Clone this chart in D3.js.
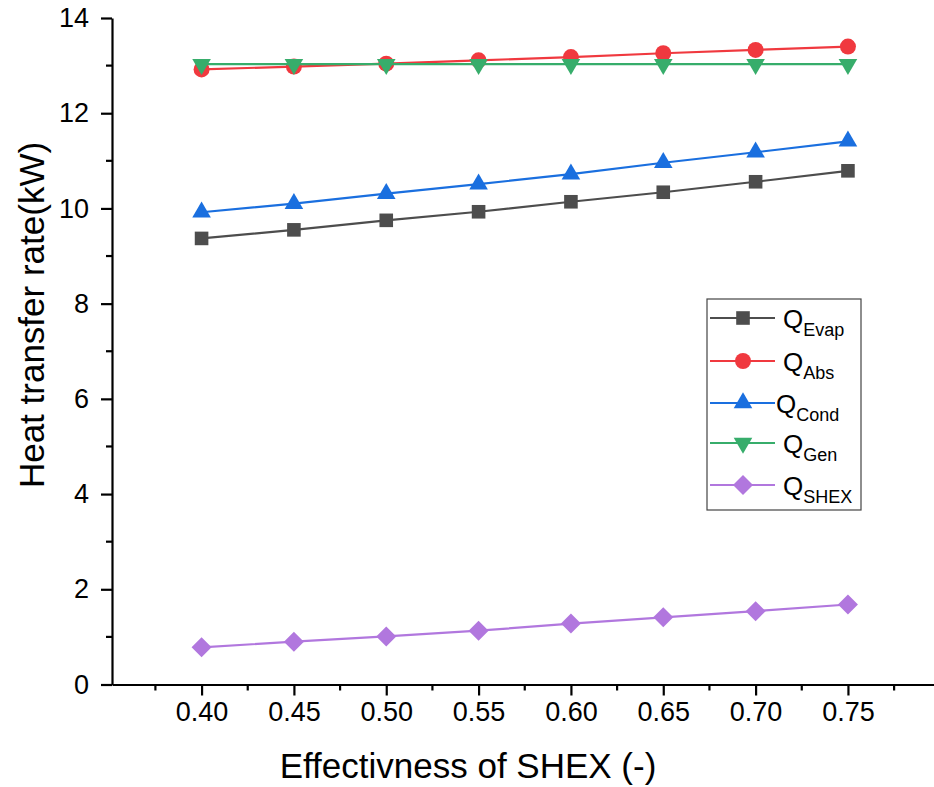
<!DOCTYPE html>
<html>
<head>
<meta charset="utf-8">
<script src="https://cdn.jsdelivr.net/npm/d3@7"></script>
<style>
  body { margin: 0; background: #fff; }
  svg { display: block; font-family: "Liberation Sans", Arial, sans-serif; }
</style>
</head>
<body>
<svg id="chart" width="934" height="787"></svg>
<script>
// effectiveness of the solution heat exchanger
const effectiveness = [0.40, 0.45, 0.50, 0.55, 0.60, 0.65, 0.70, 0.75];

const qEvap = [9.37, 9.55, 9.75, 9.93, 10.14, 10.34, 10.56, 10.79];
const qAbs  = [12.92, 12.98, 13.04, 13.11, 13.18, 13.26, 13.33, 13.40];
const qCond = [9.92, 10.10, 10.31, 10.51, 10.72, 10.96, 11.18, 11.41];
const qGen  = [13.03, 13.03, 13.03, 13.03, 13.03, 13.03, 13.03, 13.03];
const qShex = [0.78, 0.90, 1.01, 1.13, 1.28, 1.41, 1.54, 1.68];

const seriesNames = ['Evap', 'Abs', 'Cond', 'Gen', 'SHEX'];
const xTicks = [0.40, 0.45, 0.50, 0.55, 0.60, 0.65, 0.70, 0.75];
const yTicks = [0, 2, 4, 6, 8, 10, 12, 14];

const series = [
    {name: 'Evap', values: qEvap, color: '#4d4d4d', marker: 'square'},
    {name: 'Abs',  values: qAbs,  color: '#f0393f', marker: 'circle'},
    {name: 'Cond', values: qCond, color: '#1a6fdf', marker: 'up'},
    {name: 'Gen',  values: qGen,  color: '#37ad6b', marker: 'down'},
    {name: 'SHEX', values: qShex, color: '#b177de', marker: 'diamond'}
];

const svg = d3.select('#chart');

const x = d3.scaleLinear().domain([0.3515, 0.7966]).range([112, 934]);
const y = d3.scaleLinear().domain([0, 14]).range([684.5, 18]);

// marker path centred on 0,0
function markerPath(type) {
    if (type === 'square') return 'M-6.8,-6.8H6.8V6.8H-6.8Z';
    if (type === 'circle') return 'M8,0A8,8 0 1,1 -8,0A8,8 0 1,1 8,0Z';
    if (type === 'up') return 'M0,-10.7L9.3,5.3L-9.3,5.3Z';
    if (type === 'down') return 'M0,10.7L9.3,-5.3L-9.3,-5.3Z';
    if (type === 'diamond') return 'M0,-10L10,0L0,10L-10,0Z';
}

// axes
const xMinor = d3.range(0.375, 0.80, 0.05);
const yMinor = d3.range(1, 14, 2);

const xAxis = svg.append('g').attr('transform', 'translate(0,684.5)');
xAxis.call(d3.axisBottom(x).tickValues(xTicks).tickFormat(d3.format('.2f'))
    .tickSizeInner(11).tickSizeOuter(0).tickPadding(6));
xAxis.selectAll('.tick text').attr('font-size', 27).attr('fill', '#000')
    .attr('font-family', '"Liberation Sans", Arial, sans-serif');
xAxis.selectAll('line, path').attr('stroke', '#000').attr('stroke-width', 2.2);
xAxis.selectAll('.minor').data(xMinor).enter().append('line')
    .attr('x1', d => x(d)).attr('x2', d => x(d))
    .attr('y1', 0).attr('y2', 6)
    .attr('stroke', '#000').attr('stroke-width', 2.2);

const yAxis = svg.append('g').attr('transform', 'translate(112,0)');
yAxis.call(d3.axisLeft(y).tickValues(yTicks).tickFormat(d3.format('d'))
    .tickSizeInner(11).tickSizeOuter(0).tickPadding(12));
yAxis.selectAll('.tick text').attr('font-size', 27).attr('fill', '#000')
    .attr('font-family', '"Liberation Sans", Arial, sans-serif');
yAxis.selectAll('line, path').attr('stroke', '#000').attr('stroke-width', 2.2);
yAxis.selectAll('.minor').data(yMinor).enter().append('line')
    .attr('y1', d => y(d)).attr('y2', d => y(d))
    .attr('x1', 0).attr('x2', -6)
    .attr('stroke', '#000').attr('stroke-width', 2.2);

// axis titles
svg.append('text').attr('x', 468).attr('y', 778)
    .attr('text-anchor', 'middle').attr('font-size', 35)
    .text('Effectivness of SHEX (-)');
svg.append('text').attr('transform', 'translate(44,315) rotate(-90)')
    .attr('text-anchor', 'middle').attr('font-size', 35)
    .text('Heat transfer rate(kW)');

// series
const line = d3.line().x((d, i) => x(effectiveness[i])).y(d => y(d));

series.forEach(s => {
    svg.append('path').datum(s.values)
        .attr('d', line).attr('fill', 'none')
        .attr('stroke', s.color).attr('stroke-width', 2.2);
    svg.selectAll('.m-' + s.name).data(s.values).enter().append('path')
        .attr('transform', (d, i) => `translate(${x(effectiveness[i])},${y(d)})`)
        .attr('d', markerPath(s.marker)).attr('fill', s.color);
});

// legend
const legend = svg.append('g');
legend.append('rect').attr('x', 707).attr('y', 299).attr('width', 154).attr('height', 211)
    .attr('fill', '#fff').attr('stroke', '#444').attr('stroke-width', 1.2);
const rowY = [318, 361, 403, 443, 485];
const textX = [783, 783, 776, 783, 783];
series.forEach((s, i) => {
    const g = legend.append('g').attr('transform', `translate(0,${rowY[i]})`);
    g.append('line').attr('x1', 710).attr('x2', 775).attr('y1', 0).attr('y2', 0)
        .attr('stroke', s.color).attr('stroke-width', 2.2);
    g.append('path').attr('transform', 'translate(743,0)')
        .attr('d', markerPath(s.marker)).attr('fill', s.color);
    const t = g.append('text').attr('x', textX[i]).attr('y', 10).attr('font-size', 26);
    t.append('tspan').text('Q');
    t.append('tspan').attr('dy', 8).attr('font-size', 18).text(seriesNames[i]);
});
</script>
</body>
</html>
